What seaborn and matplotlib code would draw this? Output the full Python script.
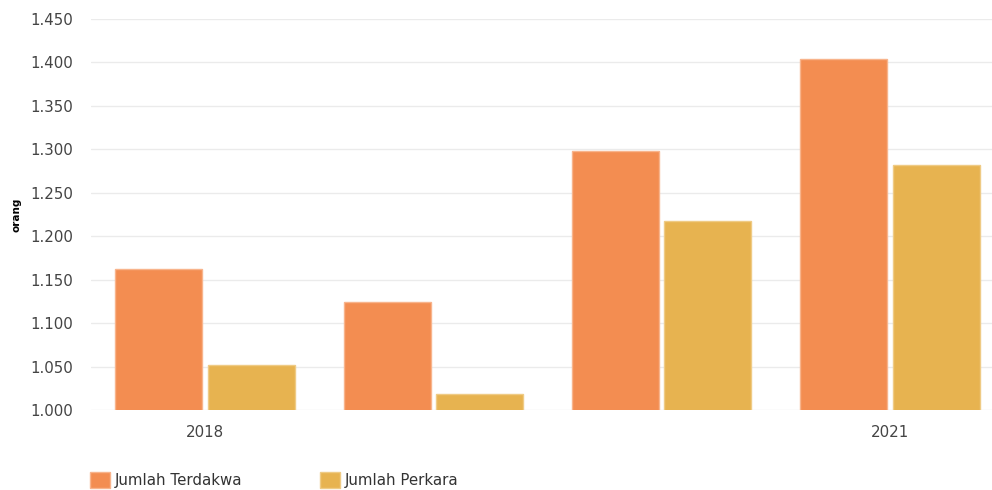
import pandas as pd
import matplotlib.pyplot as plt
import matplotlib.ticker as mticker
from matplotlib.patches import Patch
import seaborn as sns

years = ['2018', '2019', '2020', '2021']
terdakwa = [1162, 1124, 1298, 1404]
perkara = [1052, 1018, 1217, 1282]
series_names = ['Jumlah Terdakwa', 'Jumlah Perkara']
colors = ['#F38D51', '#E7B350']
edge_colors = ['#F8B48C', '#EFCB85']

df = pd.DataFrame({
    'Tahun': years * 2,
    'Jumlah': terdakwa + perkara,
    'Seri': [series_names[0]] * len(years) + [series_names[1]] * len(years),
})

sns.set_style('white')
plt.rcParams['font.family'] = ['DejaVu Sans']

fig = plt.figure(figsize=(9.92, 4.90), dpi=100)
ax = fig.add_axes([91 / 992, 80 / 490, 901 / 992, 391 / 490])

sns.barplot(data=df, x='Tahun', y='Jumlah', hue='Seri', palette=colors,
            width=0.81, gap=0.06, saturation=1, ax=ax, legend=False)

# lighter edge on each bar, like the original
for cont, ec in zip(ax.containers, edge_colors):
    for bar in cont:
        bar.set_edgecolor(ec)
        bar.set_linewidth(1)

ax.set_ylim(1000, 1450)
ax.set_xlim(-0.5, 3.5 - 12 / 228)
ax.yaxis.set_major_locator(mticker.MultipleLocator(50))
ax.yaxis.set_major_formatter(mticker.FuncFormatter(lambda v, p: f'{v:,.0f}'.replace(',', '.')))
ax.set_xticks([0, 3])
ax.set_xticklabels([years[0], years[-1]])

ax.grid(axis='y', color='#EBEBEB', linewidth=1)
ax.set_axisbelow(True)
for s in ax.spines.values():
    s.set_visible(False)
ax.tick_params(axis='y', length=0, pad=13, labelsize=10.8, labelcolor='#444444')
ax.tick_params(axis='x', length=0, pad=11, labelsize=10.8, labelcolor='#444444')
ax.set_xlabel('')
ax.set_ylabel('orang', fontsize=7.5, fontweight='bold', color='black')
ax.yaxis.set_label_coords(-70 / 901, 0.50)

handles = [Patch(facecolor=c, edgecolor=e, linewidth=1) for c, e in zip(colors, edge_colors)]
fig.legend(handles, series_names, loc='lower left', bbox_to_anchor=(78 / 992, -10 / 490),
           ncol=2, frameon=False, fontsize=10.8, handlelength=1.3, handleheight=1.3,
           handletextpad=0.35, columnspacing=5.2, borderpad=0.3, labelcolor='#333333')

fig.savefig('out.png', dpi=100)
